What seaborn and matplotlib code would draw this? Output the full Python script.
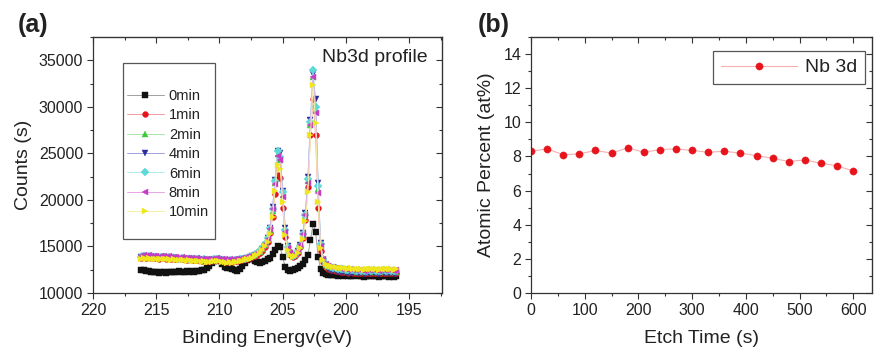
import numpy as np
import matplotlib
matplotlib.use("Agg")
import matplotlib.pyplot as plt
from matplotlib.ticker import MultipleLocator
from matplotlib.patches import Rectangle
import seaborn as sns

# binding energy grid (eV), 216.2 -> 196.0 in 0.2 eV steps
energy = np.round(np.arange(216.2, 195.95, -0.2), 1)

counts_0min = [
    12500, 12450, 12350, 12400, 12300, 12250,
    12300, 12200, 12250, 12300, 12200,
    12250, 12300, 12250, 12300, 12350,
    12300, 12250, 12350, 12300, 12350,
    12300, 12400, 12350, 12450, 12500,
    12700, 12900, 13200, 13400, 13500,
    13400, 13100, 12800, 12700, 12650,
    12600, 12500, 12400, 12600, 12900,
    13200, 13500, 13700, 13600, 13400,
    13300, 13250, 13300, 13400, 13600,
    13800, 14200, 14600, 15000, 14900, 13900, 12800, 12450, 12400, 12450,
    12550, 12700, 12900, 13100, 13500, 14100, 15700, 17400, 16600, 13900,
    12600, 12200, 12000,
    11950, 11900, 11950, 11900, 11850, 11900, 11850,
    11900, 11850, 11800, 11850, 11900, 11850, 11800, 11750, 11800, 11850,
    11800, 11850, 11800, 11750, 11800, 11850, 11800, 11750, 11800, 11750, 11800,
]
counts_1min = [
    13800, 13900, 13750, 13850, 13800, 13750, 13800, 13700, 13750, 13800, 13700,
    13750, 13650, 13700, 13650, 13600, 13650, 13600, 13550, 13600, 13550,
    13500, 13550, 13500, 13450, 13500, 13450, 13400, 13450, 13500, 13550,
    13500, 13450, 13400, 13350, 13400, 13350, 13400, 13450, 13500, 13550,
    13600, 13650, 13750, 13850, 13950, 14100, 14300, 14550, 14950, 15500,
    16400, 18200, 20600, 22700, 22300, 19100, 16000, 14600, 14100, 13900,
    14000, 14300, 14900, 15900, 17800, 21400, 27000, 30800, 27000, 19100,
    14500, 13300, 12800,
    12600, 12500, 12450, 12400, 12350, 12300, 12300,
    12250, 12200, 12250, 12200, 12150, 12200, 12150, 12100, 12150, 12200,
    12150, 12200, 12150, 12100, 12150, 12200, 12150, 12200, 12150, 12100, 12150,
]
counts_2min = [
    13950, 14050, 13900, 14000, 13950, 13900, 13950, 13850, 13900, 13950, 13850,
    13900, 13800, 13850, 13800, 13750, 13800, 13750, 13700, 13750, 13700,
    13650, 13700, 13650, 13600, 13650, 13600, 13550, 13600, 13650, 13700,
    13650, 13600, 13550, 13500, 13550, 13500, 13550, 13600, 13650, 13700,
    13750, 13800, 13900, 14000, 14100, 14250, 14450, 14750, 15200, 15800,
    16800, 18800, 21800, 24900, 24300, 20500, 16600, 14800, 14200, 14000,
    14100, 14500, 15100, 16200, 18300, 22000, 28000, 33200, 29700, 21200,
    15200, 13600, 13000,
    12800, 12700, 12600, 12550, 12500, 12450, 12450,
    12400, 12350, 12400, 12350, 12300, 12350, 12300, 12250, 12300, 12350,
    12300, 12350, 12300, 12250, 12300, 12350, 12300, 12350, 12300, 12250, 12300,
]
counts_4min = [
    13850, 13950, 13800, 13900, 13850, 13800, 13850, 13750, 13800, 13850, 13750,
    13800, 13700, 13750, 13700, 13650, 13700, 13650, 13600, 13650, 13600,
    13550, 13600, 13550, 13500, 13550, 13500, 13450, 13500, 13550, 13600,
    13550, 13500, 13450, 13400, 13450, 13400, 13450, 13500, 13550, 13600,
    13650, 13750, 13850, 13950, 14050, 14200, 14400, 14700, 15200, 15900,
    17000, 19200, 22100, 25300, 25000, 21000, 17000, 15000, 14300, 14000,
    14100, 14500, 15200, 16400, 18600, 22500, 28600, 33500, 30800, 21800,
    15400, 13500, 12900,
    12600, 12500, 12400, 12350, 12300, 12250, 12250,
    12200, 12150, 12200, 12150, 12100, 12150, 12100, 12050, 12100, 12150,
    12100, 12150, 12100, 12050, 12100, 12150, 12100, 12150, 12100, 12050, 12100,
]
counts_6min = [
    13900, 14000, 13850, 13950, 13900, 13850, 13900, 13800, 13850, 13900, 13800,
    13850, 13750, 13800, 13750, 13700, 13750, 13700, 13650, 13700, 13650,
    13600, 13650, 13600, 13550, 13600, 13550, 13500, 13550, 13600, 13650,
    13600, 13550, 13500, 13450, 13500, 13450, 13500, 13550, 13600, 13650,
    13700, 13750, 13850, 13950, 14100, 14250, 14500, 14800, 15300, 15900,
    17000, 19000, 22000, 25300, 24600, 20800, 16800, 14900, 14300, 14000,
    14100, 14500, 15100, 16300, 18400, 22200, 28400, 34000, 30000, 21500,
    15300, 13700, 13100,
    12900, 12800, 12700, 12650, 12600, 12550, 12550,
    12500, 12450, 12500, 12450, 12400, 12450, 12400, 12350, 12400, 12450,
    12400, 12450, 12400, 12350, 12400, 12450, 12400, 12450, 12400, 12350, 12400,
]
counts_8min = [
    14000, 14100, 13950, 14050, 14000, 13950, 14000, 13900, 13950, 14000, 13900,
    13950, 13850, 13900, 13850, 13800, 13850, 13800, 13750, 13800, 13750,
    13700, 13750, 13700, 13650, 13700, 13650, 13600, 13650, 13700, 13750,
    13700, 13650, 13600, 13550, 13600, 13550, 13600, 13650, 13700, 13750,
    13800, 13850, 13950, 14050, 14200, 14350, 14550, 14800, 15250, 15850,
    16900, 19000, 21700, 24700, 24300, 20300, 16500, 14800, 14300, 14100,
    14200, 14600, 15200, 16300, 18400, 21800, 28000, 33200, 29300, 20700,
    15000, 13600, 13100,
    12900, 12800, 12750, 12700, 12650, 12600, 12600,
    12550, 12500, 12550, 12500, 12450, 12500, 12450, 12400, 12450, 12500,
    12450, 12500, 12450, 12400, 12450, 12500, 12450, 12500, 12450, 12400, 12450,
]
counts_10min = [
    13700, 13800, 13650, 13750, 13700, 13650, 13700, 13600, 13650, 13700, 13600,
    13650, 13550, 13600, 13550, 13500, 13550, 13500, 13450, 13500, 13450,
    13400, 13450, 13400, 13350, 13400, 13350, 13300, 13350, 13400, 13450,
    13400, 13350, 13300, 13250, 13300, 13250, 13300, 13350, 13400, 13450,
    13500, 13600, 13700, 13800, 13950, 14100, 14300, 14600, 15000, 15500,
    16300, 18200, 21000, 23700, 23300, 19800, 16200, 14600, 14100, 13900,
    14000, 14300, 14800, 15800, 17700, 20800, 27000, 32300, 28300, 19800,
    14800, 13500, 13100,
    12900, 12850, 12800, 12750, 12700, 12700, 12650,
    12650, 12600, 12650, 12600, 12550, 12600, 12550, 12500, 12550, 12600,
    12550, 12600, 12550, 12500, 12550, 12600, 12550, 12600, 12550, 12500, 12550,
]

etch_labels = ["0min", "1min", "2min", "4min", "6min", "8min", "10min"]
spectra = [counts_0min, counts_1min, counts_2min, counts_4min,
           counts_6min, counts_8min, counts_10min]

etch_time = [0, 30, 60, 90, 120, 150, 180, 210, 240, 270, 300,
             330, 360, 390, 420, 450, 480, 510, 540, 570, 600]
atomic_percent = [8.3, 8.45, 8.1, 8.15, 8.35, 8.2, 8.5, 8.25, 8.4, 8.45, 8.35,
                  8.25, 8.3, 8.2, 8.05, 7.9, 7.7, 7.8, 7.6, 7.45, 7.15]

# marker, marker colour, line colour
styles = [
    ("s", "#111111", "#a0a0a0"),
    ("o", "#e8141c", "#f2a0a4"),
    ("^", "#3cc83c", "#a6e6a6"),
    ("v", "#2b2b9e", "#a0a0dc"),
    ("D", "#5fd8d8", "#b0eeee"),
    ("<", "#c43cc4", "#e8a6e8"),
    (">", "#f0e61e", "#f6f0a0"),
]

sns.set_style("ticks")
plt.rcParams["font.family"] = ["Liberation Sans", "DejaVu Sans"]
txt = "#222222"
plt.rcParams["text.color"] = txt
plt.rcParams["axes.labelcolor"] = txt
plt.rcParams["xtick.color"] = "#333333"
plt.rcParams["ytick.color"] = "#333333"
plt.rcParams["xtick.labelcolor"] = txt
plt.rcParams["ytick.labelcolor"] = txt

fig = plt.figure(figsize=(8.74, 3.47), dpi=100)
ax1 = fig.add_axes([93 / 874, 54 / 347, 349 / 874, 256 / 347])
ax2 = fig.add_axes([531 / 874, 54 / 347, 341 / 874, 256 / 347])


def style_axes(ax, xmaj, xmin, ymaj, ymin):
    for s in ax.spines.values():
        s.set_visible(True)
        s.set_linewidth(0.9)
        s.set_color("#333333")
    ax.xaxis.set_major_locator(MultipleLocator(xmaj))
    ax.xaxis.set_minor_locator(MultipleLocator(xmin))
    ax.yaxis.set_major_locator(MultipleLocator(ymaj))
    ax.yaxis.set_minor_locator(MultipleLocator(ymin))
    ax.tick_params(which="both", direction="out", width=0.8, labelsize=11.5, pad=3)
    ax.tick_params(which="major", length=4)
    ax.tick_params(which="minor", length=2.5)
    top = ax.secondary_xaxis("top")
    top.xaxis.set_major_locator(MultipleLocator(xmaj))
    top.xaxis.set_minor_locator(MultipleLocator(xmin))
    top.tick_params(which="both", direction="in", labeltop=False, width=0.8)
    top.tick_params(which="major", length=4)
    top.tick_params(which="minor", length=2.5)
    right = ax.secondary_yaxis("right")
    right.yaxis.set_major_locator(MultipleLocator(ymaj))
    right.yaxis.set_minor_locator(MultipleLocator(ymin))
    right.tick_params(which="both", direction="in", labelright=False, width=0.8)
    right.tick_params(which="major", length=4)
    right.tick_params(which="minor", length=2.5)


# (a) Nb3d spectra
for lab, vals, (mk, mc, lc) in zip(etch_labels, spectra, styles):
    sns.lineplot(x=energy, y=vals, ax=ax1, color=lc, lw=0.7, marker=mk,
                 markersize=4.2, markerfacecolor=mc, markeredgecolor=mc,
                 markeredgewidth=0.3, label=lab, estimator=None, sort=False)

ax1.set_xlim(220, 192.4)
ax1.set_ylim(10000, 37500)
style_axes(ax1, 5, 2.5, 5000, 2500)
ax1.set_xlabel("Binding Energv(eV)", fontsize=14, labelpad=9)
ax1.set_ylabel("Counts (s)", fontsize=14, labelpad=5)
ax1.text(0.96, 0.918, "Nb3d profile", transform=ax1.transAxes,
         ha="right", va="center", fontsize=14)
ax1.add_patch(Rectangle((0.086, 0.211), 0.264, 0.6875, transform=ax1.transAxes,
                        fill=False, edgecolor="#555555", lw=0.9, zorder=5))
ax1.legend(loc="upper left", bbox_to_anchor=(0.098, 0.797), frameon=False,
           fontsize=10.5, handlelength=2.5, handletextpad=0.35, labelspacing=0.37,
           borderpad=0, borderaxespad=0)

# (b) atomic percent vs etch time
sns.lineplot(x=etch_time, y=atomic_percent, ax=ax2, color="#f4b0b0", lw=0.8,
             marker="o", markersize=5.2, markerfacecolor="#e8141c",
             markeredgecolor="#e8141c", markeredgewidth=0.3, label="Nb 3d",
             estimator=None)
ax2.set_xlim(0, 635)
ax2.set_ylim(0, 15)
style_axes(ax2, 100, 50, 2, 1)
ax2.set_xlabel("Etch Time (s)", fontsize=14, labelpad=9)
ax2.set_ylabel("Atomic Percent (at%)", fontsize=14, labelpad=6)
leg = ax2.legend(loc="upper right", bbox_to_anchor=(0.979, 0.945), fontsize=14,
                 handlelength=3.9, handletextpad=0.4, borderpad=0.4,
                 borderaxespad=0, fancybox=False, framealpha=1)
leg.get_frame().set_edgecolor("#555555")
leg.get_frame().set_linewidth(0.9)

fig.text(18 / 874, 1 - 25 / 347, "(a)", fontsize=18, fontweight="bold", va="center")
fig.text(478 / 874, 1 - 25 / 347, "(b)", fontsize=18, fontweight="bold", va="center")

fig.savefig("out.png", dpi=100)
